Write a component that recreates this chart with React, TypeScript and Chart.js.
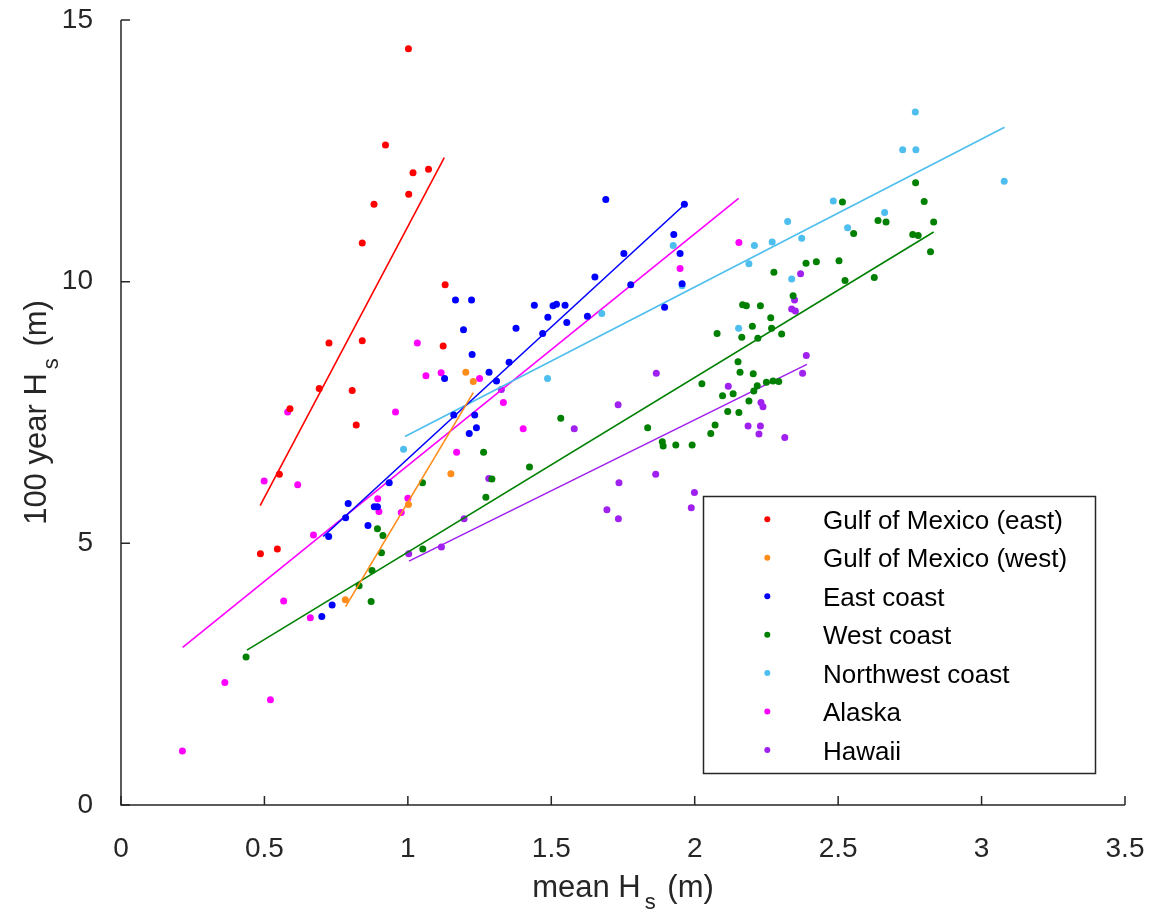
import React, { useEffect, useRef } from "react";
import { Chart, registerables } from "chart.js";

Chart.register(...registerables);

// ---------------- data ----------------
const seriesLabels = [
  "Gulf of Mexico (east)",
  "Gulf of Mexico (west)",
  "East coast",
  "West coast",
  "Northwest coast",
  "Alaska",
  "Hawaii",
];

const xTitleMain = "mean H";
const yTitleMain = "100 year H";
const titleSub = "s";
const titleUnit = " (m)";

const gomEastX = [1.002, 0.922, 1.018, 1.072, 1.003, 0.882, 0.841, 1.13, 0.725, 0.841, 1.123, 0.691, 0.806, 0.589, 0.82, 0.552, 0.486, 0.545];
const gomEastY = [14.45, 12.61, 12.08, 12.15, 11.67, 11.48, 10.74, 9.94, 8.83, 8.87, 8.77, 7.96, 7.92, 7.57, 7.26, 6.32, 4.8, 4.89];
const gomEastFitX = [0.485, 1.127];
const gomEastFitY = [5.72, 12.37];

const gomWestX = [1.15, 1.002, 0.782, 1.202, 1.228];
const gomWestY = [6.33, 5.74, 3.92, 8.27, 8.09];
const gomWestFitX = [0.783, 1.228];
const gomWestFitY = [3.79, 7.88];

const eastX = [1.69, 1.964, 1.927, 1.949, 1.753, 1.652, 1.777, 1.956, 1.166, 1.222, 1.441, 1.506, 1.518, 1.548, 1.488, 1.554, 1.626, 1.895, 1.377, 1.47, 1.194, 1.224, 1.353, 1.283, 1.309, 1.128, 1.233, 1.16, 1.214, 1.239, 0.935, 0.792, 0.783, 0.883, 0.894, 0.861, 0.724, 0.736, 0.7];
const eastY = [11.57, 11.48, 10.9, 10.54, 10.54, 10.09, 9.94, 9.96, 9.65, 9.65, 9.55, 9.54, 9.57, 9.55, 9.32, 9.22, 9.34, 9.51, 9.11, 9.01, 9.08, 8.61, 8.46, 8.27, 8.1, 8.15, 7.45, 7.45, 7.1, 7.21, 6.16, 5.76, 5.49, 5.7, 5.7, 5.34, 5.13, 3.82, 3.6];
const eastFitX = [0.705, 1.964];
const eastFitY = [5.13, 11.47];

const westX = [2.276, 2.167, 2.18, 2.229, 2.265, 2.201, 2.268, 2.164, 2.22, 2.078, 2.151, 2.158, 2.204, 2.025, 2.218, 2.134, 2.097, 2.206, 2.189, 2.115, 2.154, 1.533, 2.25, 2.273, 2.293, 2.77, 2.515, 2.8, 2.833, 2.639, 2.667, 2.554, 2.76, 2.779, 2.822, 2.388, 2.424, 2.503, 2.524, 2.626, 2.343, 2.303, 1.836, 1.887, 1.89, 1.934, 1.991, 2.056, 2.071, 1.264, 1.424, 1.293, 1.272, 1.051, 0.894, 0.913, 0.908, 0.875, 0.83, 0.872, 1.052, 0.436];
const westY = [10.18, 9.56, 9.54, 9.54, 9.31, 9.15, 9.11, 8.94, 8.92, 9.01, 8.47, 8.27, 8.24, 8.05, 8.01, 7.86, 7.82, 7.91, 7.72, 7.52, 7.5, 7.39, 8.08, 8.1, 8.09, 11.89, 11.52, 11.53, 11.14, 11.17, 11.14, 10.92, 10.9, 10.88, 10.57, 10.35, 10.38, 10.4, 10.02, 10.08, 9.73, 9.0, 7.21, 6.94, 6.86, 6.88, 6.88, 7.1, 7.26, 6.74, 6.46, 6.23, 5.88, 6.16, 5.28, 5.15, 4.82, 4.48, 4.19, 3.89, 4.89, 2.83];
const westFitX = [0.439, 2.833];
const westFitY = [2.96, 10.95];

const northwestX = [2.769, 2.725, 2.771, 3.079, 2.483, 2.662, 2.324, 2.533, 2.373, 2.27, 2.338, 1.925, 2.208, 2.189, 1.676, 2.153, 1.487, 1.956, 0.985];
const northwestY = [13.24, 12.52, 12.52, 11.92, 11.54, 11.32, 11.15, 11.03, 10.83, 10.76, 10.05, 10.69, 10.69, 10.34, 9.39, 9.11, 8.15, 9.92, 6.8];
const northwestFitX = [0.99, 3.08];
const northwestFitY = [7.04, 12.95];

const alaskaX = [0.581, 0.957, 1.033, 1.063, 1.116, 0.499, 0.616, 1.17, 0.895, 0.899, 1.0, 0.977, 0.671, 0.567, 0.66, 0.362, 0.521, 0.214, 2.154, 1.949, 1.25, 1.333, 1.402];
const alaskaY = [7.51, 7.51, 8.83, 8.2, 8.26, 6.19, 6.12, 6.74, 5.85, 5.61, 5.86, 5.59, 5.16, 3.9, 3.58, 2.34, 2.01, 1.03, 10.75, 10.25, 8.15, 7.69, 7.19];
const alaskaFitX = [0.215, 2.153];
const alaskaFitY = [3.01, 11.59];

const hawaiiX = [1.003, 1.117, 1.866, 1.733, 2.117, 2.231, 2.238, 1.326, 2.369, 2.348, 2.338, 2.351, 2.389, 2.376, 1.58, 2.186, 2.229, 2.224, 1.282, 1.736, 1.864, 1.999, 1.988, 1.694, 1.734, 1.196, 2.314];
const hawaiiY = [4.8, 4.93, 8.25, 7.65, 8.0, 7.69, 7.61, 7.94, 10.15, 9.65, 9.48, 9.44, 8.59, 8.25, 7.19, 7.24, 7.24, 7.09, 6.24, 6.16, 6.32, 5.97, 5.68, 5.64, 5.47, 5.47, 7.02];
const hawaiiFitX = [1.004, 2.391];
const hawaiiFitY = [4.66, 8.42];

// ---------------- styles ----------------
const seriesColors = ["#FF0000", "#FF8C1A", "#0000FF", "#008000", "#4DBEEE", "#FF00FF", "#A020F0"];
const FONT = "'Liberation Sans', Arial, Helvetica, sans-serif";
const AXIS_COLOR = "#262626";

function drawTitle(ctx: CanvasRenderingContext2D, main: string, sub: string, unit: string, size: number) {
  const subSize = Math.round(size * 0.72);
  ctx.font = `${size}px ${FONT}`;
  const w1 = ctx.measureText(main).width;
  const w3 = ctx.measureText(unit).width;
  ctx.font = `${subSize}px ${FONT}`;
  const w2 = ctx.measureText(sub).width;
  const gap = 4;
  const gap2 = 3;
  const total = w1 + gap + w2 + gap2 + w3;
  let x = -total / 2;
  ctx.textAlign = "left";
  ctx.textBaseline = "alphabetic";
  ctx.fillStyle = AXIS_COLOR;
  ctx.font = `${size}px ${FONT}`;
  ctx.fillText(main, x, 0);
  x += w1 + gap;
  ctx.font = `${subSize}px ${FONT}`;
  ctx.fillText(sub, x, Math.round(size * 0.4));
  x += w2 + gap2;
  ctx.font = `${size}px ${FONT}`;
  ctx.fillText(unit, x, 0);
}

const decorPlugin = {
  id: "decor",
  afterDraw(chart: any) {
    const ctx: CanvasRenderingContext2D = chart.ctx;
    const { left, right, top, bottom } = chart.chartArea;
    const xs = chart.scales.x;
    const ys = chart.scales.y;
    ctx.save();
    // axis lines
    ctx.strokeStyle = AXIS_COLOR;
    ctx.lineWidth = 1.5;
    ctx.beginPath();
    ctx.moveTo(left, top);
    ctx.lineTo(left, bottom);
    ctx.lineTo(right, bottom);
    ctx.stroke();
    // inward ticks
    const tl = 9;
    ctx.beginPath();
    xs.ticks.forEach((t: any) => {
      const px = xs.getPixelForValue(t.value);
      ctx.moveTo(px, bottom);
      ctx.lineTo(px, bottom - tl);
    });
    ys.ticks.forEach((t: any) => {
      const py = ys.getPixelForValue(t.value);
      ctx.moveTo(left, py);
      ctx.lineTo(left + tl, py);
    });
    ctx.stroke();

    // x title
    ctx.save();
    ctx.translate((left + right) / 2, 897);
    drawTitle(ctx, xTitleMain, titleSub, titleUnit, 31);
    ctx.restore();
    // y title
    ctx.save();
    ctx.translate(46, (top + bottom) / 2);
    ctx.rotate(-Math.PI / 2);
    drawTitle(ctx, yTitleMain, titleSub, titleUnit, 31);
    ctx.restore();

    // legend
    const lx0 = 703.5, ly0 = 496.5, lx1 = 1095.5, ly1 = 773.5;
    ctx.fillStyle = "#FFFFFF";
    ctx.fillRect(lx0, ly0, lx1 - lx0, ly1 - ly0);
    ctx.strokeStyle = AXIS_COLOR;
    ctx.lineWidth = 1.5;
    ctx.strokeRect(lx0, ly0, lx1 - lx0, ly1 - ly0);
    const rowH = 38.45;
    seriesLabels.forEach((lab, i) => {
      const cy = 519.3 + i * rowH;
      ctx.fillStyle = seriesColors[i];
      ctx.beginPath();
      ctx.arc(767.3, cy, 3, 0, Math.PI * 2);
      ctx.fill();
      ctx.fillStyle = "#000000";
      ctx.font = `26px ${FONT}`;
      ctx.textAlign = "left";
      ctx.textBaseline = "alphabetic";
      ctx.fillText(lab, 823, cy + 9.5);
    });
    ctx.restore();
  },
};

export default function App() {
  const ref = useRef<HTMLCanvasElement>(null);
  useEffect(() => {
    const canvas = ref.current;
    if (!canvas) return;
    const series = [
      { x: gomEastX, y: gomEastY, fx: gomEastFitX, fy: gomEastFitY },
      { x: gomWestX, y: gomWestY, fx: gomWestFitX, fy: gomWestFitY },
      { x: eastX, y: eastY, fx: eastFitX, fy: eastFitY },
      { x: westX, y: westY, fx: westFitX, fy: westFitY },
      { x: northwestX, y: northwestY, fx: northwestFitX, fy: northwestFitY },
      { x: alaskaX, y: alaskaY, fx: alaskaFitX, fy: alaskaFitY },
      { x: hawaiiX, y: hawaiiY, fx: hawaiiFitX, fy: hawaiiFitY },
    ];
    const datasets: any[] = [];
    series.forEach((s, i) => {
      datasets.push({
        label: seriesLabels[i],
        data: s.x.map((x, j) => ({ x, y: s.y[j] })),
        backgroundColor: seriesColors[i],
        borderColor: seriesColors[i],
        borderWidth: 0,
        pointRadius: 3.5,
        pointHoverRadius: 3.5,
        showLine: false,
      });
      datasets.push({
        label: seriesLabels[i] + " fit",
        data: s.fx.map((x, j) => ({ x, y: s.fy[j] })),
        borderColor: seriesColors[i],
        backgroundColor: seriesColors[i],
        borderWidth: 1.6,
        pointRadius: 0,
        showLine: true,
        fill: false,
      });
    });
    const tickFont = { family: FONT, size: 28 };
    const fmt = (v: any) => `${+v}`;
    const chart = new Chart(canvas, {
      type: "scatter",
      data: { datasets },
      plugins: [decorPlugin],
      options: {
        animation: false,
        responsive: false,
        devicePixelRatio: 1,
        layout: { padding: { top: 20, right: 37, left: 0, bottom: 0 } },
        plugins: { legend: { display: false }, tooltip: { enabled: false } },
        scales: {
          x: {
            type: "linear",
            min: 0,
            max: 3.5,
            grid: { display: false },
            border: { display: false },
            ticks: { stepSize: 0.5, font: tickFont, color: AXIS_COLOR, padding: 19, maxRotation: 0, callback: fmt },
            afterFit: (s: any) => {
              s.height = 106;
              s.paddingLeft = 0;
              s.paddingRight = 0;
            },
          },
          y: {
            type: "linear",
            min: 0,
            max: 15,
            grid: { display: false },
            border: { display: false },
            ticks: { stepSize: 5, font: tickFont, color: AXIS_COLOR, padding: 20, callback: fmt },
            afterFit: (s: any) => {
              s.width = 121;
              s.paddingTop = 0;
              s.paddingBottom = 0;
            },
          },
        },
      } as any,
    });
    return () => chart.destroy();
  }, []);
  return (
    <div style={{ position: "fixed", left: 0, top: 0, width: 1162, height: 911, background: "#ffffff" }}>
      <canvas ref={ref} width={1162} height={911} style={{ display: "block" }} />
    </div>
  );
}
